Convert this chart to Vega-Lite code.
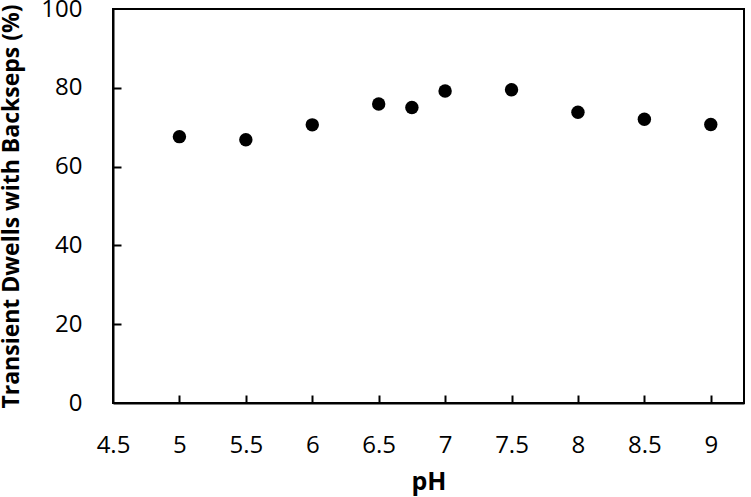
{
  "$schema": "https://vega.github.io/schema/vega-lite/v6.json",
  "width": 631,
  "height": 394,
  "autosize": "none",
  "padding": {"left": 113, "top": 9, "right": 7, "bottom": 94},
  "background": "white",
  "data": {"values": [
    {"pH": 5, "pct": 67.6},
    {"pH": 5.5, "pct": 66.8},
    {"pH": 6, "pct": 70.6},
    {"pH": 6.5, "pct": 75.9},
    {"pH": 6.75, "pct": 75.0},
    {"pH": 7, "pct": 79.2},
    {"pH": 7.5, "pct": 79.5},
    {"pH": 8, "pct": 73.8},
    {"pH": 8.5, "pct": 72.0},
    {"pH": 9, "pct": 70.7}
  ]},
  "config": {
    "view": {"stroke": "black", "strokeWidth": 2},
    "font": "Open Sans",
    "axis": {
      "grid": false,
      "domainColor": "black",
      "domainWidth": 2,
      "tickColor": "black",
      "tickWidth": 2,
      "labelColor": "black",
      "labelFontSize": 24,
      "labelFont": "Open Sans",
      "titleFont": "Open Sans",
      "titleColor": "black",
      "titleFontSize": 22,
      "titleFontWeight": "bold"
    }
  },
  "resolve": {"axis": {"x": "independent", "y": "independent"}},
  "layer": [
    {
      "mark": {"type": "circle", "size": 180, "color": "black", "opacity": 1},
      "encoding": {
        "x": {
          "field": "pH", "type": "quantitative", "title": "pH",
          "scale": {"domain": [4.5, 9.25], "nice": false, "zero": false},
          "axis": {"orient": "bottom", "values": [4.5, 5, 5.5, 6, 6.5, 7, 7.5, 8, 8.5, 9], "format": "~g", "ticks": false, "labelPadding": 30, "titlePadding": 12, "titleFontSize": 25, "labelFlush": false}
        },
        "y": {
          "field": "pct", "type": "quantitative", "title": "Transient Dwells with Backseps (%)",
          "scale": {"domain": [0, 100], "nice": false},
          "axis": {"orient": "left", "values": [0, 20, 40, 60, 80, 100], "format": "d", "ticks": false, "labelPadding": 31, "titlePadding": 17, "titleFontSize": 23, "labelFlush": false}
        }
      }
    },
    {
      "mark": {"type": "circle", "size": 180, "color": "black", "opacity": 0},
      "encoding": {
        "x": {
          "field": "pH", "type": "quantitative",
          "axis": {"orient": "bottom", "values": [5, 5.5, 6, 6.5, 7, 7.5, 8, 8.5, 9], "offset": -8, "tickSize": 8, "domain": false, "labels": false, "title": null}
        },
        "y": {
          "field": "pct", "type": "quantitative",
          "axis": {"orient": "left", "values": [20, 40, 60, 80], "offset": -8, "tickSize": 8, "domain": false, "labels": false, "title": null}
        }
      }
    }
  ]
}
